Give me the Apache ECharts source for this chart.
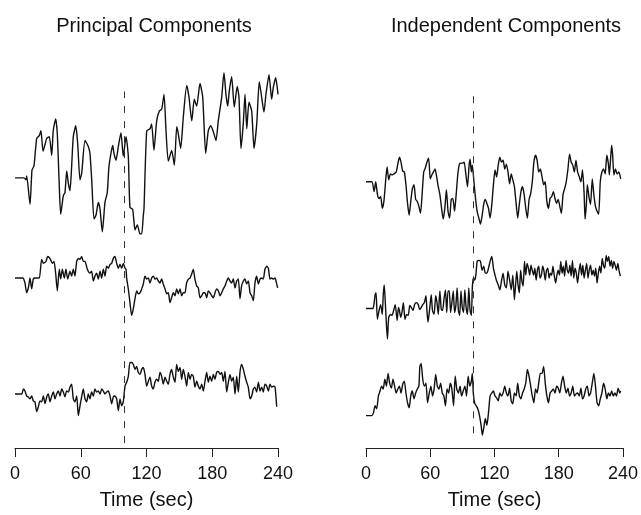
<!DOCTYPE html>
<html>
<head>
<meta charset="utf-8">
<script src="https://cdn.jsdelivr.net/npm/echarts@6/dist/echarts.min.js"></script>
<style>
  html, body { margin: 0; background: #fff; }
  #chart { width: 641px; height: 515px; }
</style>
</head>
<body>
<div id="chart"></div>
<script>
// time (sec), amplitude (arbitrary units)
const pcTop = [[0,0],[8.2,0],[10,-2],[10.7,2],[13.7,-27],[15.5,8],[17.3,12],[19.8,40],[22.2,43],[23.7,48],[25.6,27],[28.9,40],[31.3,42],[33.5,23],[34.9,48],[37.1,60],[38.6,45],[40.4,-8],[41.7,-37],[44.1,-18],[45.6,-15],[47.2,7],[48.6,-5],[50.2,-13],[51.7,12],[53.2,42],[55.4,53],[57.2,35],[59.3,-2],[60.9,5],[63.9,38],[66.9,32],[68.4,25],[70,-2],[72.1,-42],[73.9,-38],[76,-25],[77.6,-32],[79.7,-55],[82.1,-25],[84.2,-15],[85.8,12],[89.2,33],[90.3,25],[92.2,18],[94.3,32],[96.7,46],[98.8,22],[101.3,42],[103.4,22],[104.9,-30],[107.4,-32],[109.5,-53],[111.6,-48],[114.1,-57],[115.6,-57],[117.1,-38],[117.7,-32],[120.2,48],[123.2,50],[124.7,55],[126.8,28],[129.3,58],[131.7,68],[133.9,70],[136,85],[137.8,48],[139.9,17],[143,28],[145.4,13],[147.6,52],[149,45],[151.2,30],[153.6,62],[156.7,94],[158.8,82],[161.3,58],[163.6,80],[165.8,73],[168.8,96],[171.3,82],[174,25],[176.4,48],[178.6,53],[181,47],[183.4,38],[185.5,58],[188.6,82],[190.7,107],[192.5,85],[194.1,73],[195.5,88],[197.7,103],[200.1,72],[202.8,93],[204.4,82],[206.2,30],[208.3,55],[209.9,85],[211.5,50],[213.5,77],[216,68],[218.1,30],[220.6,55],[222.9,98],[225.1,82],[227.2,67],[229,85],[231.8,105],[234.2,80],[235.7,92],[237.9,102],[240,85]];

const pcMid = [[0,0],[7,0],[9.1,-5],[10.6,-15],[12.2,-10],[13.7,0],[15.2,-11],[16.7,-1],[18.2,0],[19.8,0],[22.2,0],[24.3,19],[25.9,15],[28.3,17],[29.8,22],[31.9,20],[34.1,15],[35.6,17],[37.1,5],[38.6,-13],[40.4,9],[41.7,-1],[43.2,9],[45,0],[46.5,9],[48.1,-1],[50.2,7],[51.7,2],[53.2,9],[54.7,2],[56.3,17],[57.8,20],[59.3,19],[60.8,22],[62.3,17],[63.9,17],[66,9],[68.4,5],[69.9,7],[71.5,-3],[73,2],[74.5,5],[76,-1],[77.6,7],[79.1,0],[80.6,9],[82.1,2],[83.6,12],[85.2,10],[86.7,14],[88.2,15],[89.7,20],[91.2,22],[92.8,15],[94.3,10],[95.8,14],[97.3,10],[98.8,15],[100.4,10],[101.3,9],[101.9,0],[103.4,-11],[104.9,-25],[106.5,-38],[108,-31],[109.5,-21],[111,-13],[112.5,-16],[114.1,-15],[115.6,-11],[117.1,-6],[118.6,2],[120.1,-1],[121.7,0],[123.2,-5],[124.7,0],[126.2,2],[127.7,-1],[129.3,0],[130.8,-3],[132.3,-5],[133.8,-1],[135.3,-6],[136.9,-11],[138.4,-16],[139.9,-15],[141.4,-25],[142.9,-20],[144.5,-15],[146,-18],[147.5,-11],[149,-16],[150.6,-11],[152.1,-18],[153.6,-15],[155.1,-15],[156.6,-5],[158.2,-1],[159.7,0],[161.2,4],[162.7,9],[164.2,-1],[165.8,-8],[167.3,-10],[168.8,-20],[170.3,-18],[171.9,-15],[173.4,-15],[174.9,-20],[176.4,-13],[177.9,-15],[179.5,-18],[181,-20],[182.5,-15],[184,-11],[185.6,-13],[187.1,-18],[188.6,-15],[190.1,-11],[191.6,-8],[193.2,-3],[194.7,0],[196.2,-3],[197.7,-5],[199.2,-1],[200.8,-10],[202.3,-3],[203.8,-1],[205.3,-21],[206.8,-8],[208.4,-3],[209.9,-1],[211.4,-6],[212.9,-3],[214.5,-15],[216,-18],[217.5,-23],[219,-5],[220.5,2],[222.1,-6],[223.6,-1],[225.1,0],[226.6,-1],[228.1,9],[229.7,12],[231.2,10],[232.7,-1],[234.2,0],[235.8,-1],[237.3,0],[238.8,-6],[239.7,-10]];

const pcBottom = [[0,0],[6.1,0],[7.6,5],[9.1,3],[10.6,-2],[12.2,-3],[13.7,-5],[15.2,-2],[16.7,-7],[18.2,-8],[19.8,-18],[21.3,-13],[22.8,-7],[24.3,-8],[25.9,-2],[27.4,-10],[28.9,-3],[30.4,0],[31.9,-8],[33.5,-2],[35,2],[36.5,-5],[38,0],[39.5,3],[41.1,-2],[42.6,5],[44.1,2],[45.6,-3],[47.1,3],[48.7,2],[50.2,7],[51.7,10],[53.2,-5],[54.7,-8],[56.3,-2],[57.8,-22],[59.3,-12],[60.8,-3],[62.3,5],[63.9,-5],[65.4,-8],[66.9,0],[68.4,-5],[69.9,2],[71.5,-2],[73,5],[74.5,2],[76,3],[77.6,0],[79.1,5],[80.6,3],[82.1,0],[83.6,2],[85.2,3],[86.7,-2],[88.2,-10],[89.7,-3],[91.2,-2],[92.8,-5],[94.3,-17],[95.8,-5],[97.3,-12],[98.8,-8],[100.4,8],[101.9,12],[103.4,18],[104.9,32],[106.5,32],[108,30],[109.5,25],[111,28],[112.5,22],[114.1,20],[115.6,25],[117.1,27],[118.6,20],[120.1,8],[121.7,13],[123.2,17],[124.7,8],[126.2,5],[127.7,12],[129.3,15],[130.8,13],[132.3,22],[133.8,18],[135.3,10],[136.9,17],[138.4,13],[139.9,10],[141.4,20],[142.9,25],[144.5,17],[146,12],[147.5,30],[149,23],[150.6,27],[152.1,15],[153.6,25],[155.1,18],[156.6,8],[158.2,22],[159.7,15],[161.2,20],[162.7,18],[164.2,7],[165.8,13],[167.3,8],[168.8,5],[170.3,10],[171.9,3],[173.4,13],[174.9,22],[176.4,12],[177.9,18],[179.5,13],[181,20],[182.5,15],[184,22],[185.6,23],[187.1,20],[188.6,22],[190.1,13],[191.6,23],[193.2,2],[194.7,12],[196.2,20],[197.7,13],[199.2,17],[200.8,0],[202.3,18],[203.8,2],[205.3,22],[206.8,30],[208.4,25],[209.9,18],[211.4,12],[212.9,7],[214.5,-5],[216,-2],[217.5,5],[219,7],[220.5,2],[222.1,12],[223.6,3],[225.1,7],[226.6,2],[228.1,10],[229.7,8],[231.2,3],[232.7,10],[234.2,7],[235.8,8],[237.3,7],[238.8,-13]];

const icTop = [[0,0],[5.5,0],[7.6,-10],[9.1,0],[10.7,-13],[12.2,-17],[13.7,-15],[15.2,-27],[16.7,-20],[18.5,3],[19.7,15],[21.2,2],[22.8,8],[24.3,7],[26.1,8],[28.2,10],[29.7,18],[31.2,25],[32.7,20],[34.2,11],[35.8,10],[37.3,-3],[38.8,-22],[40.3,-34],[41.8,-20],[43.3,-7],[44.8,-3],[46.4,-18],[47.9,-20],[49.4,-25],[50.9,-32],[52.4,-13],[53.9,10],[55.4,14],[56.9,20],[58.5,24],[60,3],[61.5,7],[63,10],[64.5,13],[66,5],[67.5,-5],[69,-13],[70.6,-27],[72.1,-38],[73.6,-27],[75.1,-8],[76.6,-30],[78.1,-37],[79.6,-18],[81.1,-17],[82.7,-30],[84.2,-13],[85.7,7],[87.2,18],[88.7,19],[90.2,19],[91.7,20],[93.3,7],[94.8,-5],[96.3,17],[97.2,23],[98.4,10],[99.3,17],[100.8,0],[102.3,-17],[103.8,-30],[105.4,-37],[106.9,-43],[108.4,-35],[109.9,-23],[111.4,-18],[112.9,-22],[114.4,-27],[115.9,-37],[117.5,-23],[119,-3],[120.5,12],[122,5],[123.5,17],[125,25],[126.5,20],[128,22],[129.6,13],[131.1,18],[132.6,10],[134.1,-2],[135.6,8],[137.1,2],[138.6,-5],[140.2,-22],[141.7,-37],[143.2,-23],[144.7,-10],[146.2,-5],[147.7,-13],[149.2,-27],[150.7,-37],[152.3,-18],[153.8,-12],[155.3,0],[156.8,20],[158.3,27],[159.8,22],[161.3,10],[162.8,13],[164.4,5],[165.9,-3],[167.4,0],[168.9,-20],[170.4,-27],[171.9,-17],[173.4,-15],[175,-10],[176.5,-17],[178,-22],[179.5,-18],[181,-25],[182.5,-32],[184,-13],[185.5,-7],[187,0],[188.6,13],[190.1,28],[191.6,20],[193.1,17],[194.6,10],[196.1,22],[197.6,10],[199.2,5],[200.7,0],[202.2,12],[203.7,-12],[204.6,-38],[205.8,-23],[206.7,-3],[208.2,-15],[209.7,-23],[211.3,3],[212.8,-13],[214.3,-25],[215.8,-30],[217.3,-33],[218.8,0],[220.3,10],[221.8,13],[223.4,8],[224.9,27],[226.4,18],[227.3,7],[228.5,25],[229.4,37],[230.3,28],[231.5,7],[233,13],[234.5,8],[236.1,10],[237.9,3]];

const icMid = [[0,0],[6.4,0],[7.6,6],[8.5,14],[9.4,16],[10.6,-11],[12.2,-2],[13.7,4],[15.2,-6],[16.1,14],[17,24],[17.9,9],[19.1,-17],[20,-31],[21.2,-9],[22.8,-6],[24.3,-7],[25.8,-2],[27.3,4],[28.2,-4],[29.1,-12],[30.3,1],[31.2,-2],[32.4,-9],[33.6,-4],[34.9,6],[36.4,-11],[37.9,-6],[39.4,-7],[40.9,3],[42.4,1],[43.9,-2],[45.4,4],[47,6],[48.8,4],[50,-1],[51.5,1],[53,4],[54.5,6],[56,13],[56.9,-2],[57.9,-14],[59.4,-1],[60.9,14],[62.1,-2],[63.6,-6],[65.1,13],[66.3,6],[67.5,-6],[69,18],[70.3,-1],[71.5,-2],[73,11],[74.2,19],[75.4,-4],[76.6,18],[77.8,18],[79,-4],[80.2,6],[81.5,18],[82.7,-4],[83.9,3],[85.1,21],[86.3,-2],[87.5,-7],[88.7,18],[89.9,1],[91.1,-4],[92.3,19],[93.5,1],[94.8,-6],[96,21],[97.2,-2],[98.4,-7],[99.3,21],[100.2,31],[101.4,29],[102.6,34],[103.8,48],[105.4,49],[106.9,48],[108.4,39],[109.9,43],[111.4,36],[112.9,36],[114.4,41],[115.9,48],[117.5,53],[119,41],[120.5,34],[122,28],[123.5,24],[125,19],[126.5,28],[128,36],[129.6,24],[131.1,21],[132.6,38],[134.1,29],[135.6,19],[137.1,34],[138.6,9],[139.5,21],[140.8,38],[142,24],[143.2,16],[144.4,39],[145.6,28],[146.8,23],[148,48],[149.2,34],[150.4,46],[151.7,41],[152.9,34],[154.1,44],[155.3,39],[156.5,34],[157.7,41],[158.9,29],[160.1,39],[161.3,43],[162.5,31],[163.8,34],[165,43],[166.2,38],[167.4,29],[168.6,39],[169.8,41],[171,31],[172.2,36],[173.4,34],[174.6,43],[175.9,33],[177.1,26],[178.3,34],[179.5,39],[180.7,34],[181.9,48],[183.1,36],[184.3,43],[185.5,33],[186.8,49],[188,39],[189.2,36],[190.4,44],[191.6,33],[192.8,49],[194,31],[195.2,41],[196.4,36],[197.6,26],[198.9,38],[200.1,46],[201.3,34],[202.5,44],[203.7,31],[204.9,39],[206.1,46],[207.3,31],[208.5,39],[209.7,44],[211,34],[212.2,39],[213.4,33],[214.6,41],[215.8,26],[217,36],[218.2,43],[219.4,36],[220.6,51],[221.8,44],[223,41],[224.3,54],[225.5,48],[226.7,53],[227.9,43],[229.1,49],[230.3,41],[231.5,48],[232.7,44],[233.9,39],[235.2,46],[236.4,38],[237.6,33]];

const icBottom = [[0,0],[5.5,0],[7,3],[8.5,10],[10,7],[11.6,20],[13.1,25],[14.6,30],[16.1,27],[17.6,37],[19.1,30],[20.6,43],[22.1,33],[23.7,28],[25.2,37],[26.7,30],[28.2,23],[29.7,27],[31.2,30],[32.7,23],[34.3,32],[35.8,35],[37.3,23],[38.8,13],[40.3,8],[41.8,20],[43.3,25],[44.8,17],[46.4,23],[47.9,27],[49.4,30],[50.3,50],[51.5,53],[53,37],[54.5,30],[56,33],[57.5,13],[59.1,23],[60.6,30],[62.1,20],[63.6,27],[65.1,42],[66.6,30],[68.1,27],[69.7,33],[71.2,23],[72.7,20],[74.2,10],[75.7,27],[77.2,23],[78.7,33],[80.2,27],[81.8,10],[83.3,40],[84.8,27],[86.3,23],[87.8,30],[89.3,20],[90.8,25],[92.4,30],[93.9,20],[95.4,40],[96.9,30],[98.4,35],[99.3,43],[100.2,23],[101.4,13],[102.9,10],[104.4,7],[106,0],[107.5,-10],[108.7,-20],[109.9,-13],[111.4,-3],[112.9,-10],[114.4,3],[115.9,20],[117.5,23],[119,25],[120.5,20],[122,18],[123.5,15],[125,23],[126.5,20],[128,23],[129.6,30],[131.1,23],[132.6,20],[134.1,28],[135.6,15],[137.1,12],[138.6,23],[140.2,20],[141.7,33],[143.2,20],[144.7,17],[146.2,23],[147.7,27],[149.2,33],[150.7,47],[152.3,40],[153.8,30],[155.3,20],[156.8,13],[158.3,27],[159.8,23],[161.3,33],[162.8,43],[164.4,43],[165.9,50],[167.4,33],[168.9,20],[170.4,13],[171.9,23],[173.4,25],[175,27],[176.5,23],[178,30],[179.5,28],[181,23],[182.5,33],[184,40],[185.5,30],[187,23],[188.6,28],[190.1,20],[191.6,23],[193.1,30],[194.6,20],[196.1,22],[197.6,23],[199.2,20],[200.7,28],[202.2,17],[203.7,20],[205.2,27],[206.7,30],[208.2,20],[209.7,23],[211.3,33],[212.8,43],[214.3,30],[215.8,13],[217.3,10],[218.8,17],[220.3,23],[221.8,33],[223.4,27],[224.9,17],[226.4,23],[227.9,20],[229.4,25],[230.9,20],[232.4,23],[233.9,20],[235.5,28],[237,23],[237.9,25]];

const panelTitles = ['Principal Components', 'Independent Components'];
const timeTicks = [0, 60, 120, 180, 240];
const stimulusOnset = 100;

// layout: vertical offset of each trace inside its panel (axis units = px)
const offsetsLeft = [275, 173, 55];
const offsetsRight = [271, 142, 33];
const dashSpanLeft = [5, 363];
const dashSpanRight = [15, 362];

const font = 'Liberation Sans, Arial, sans-serif';
const ink = '#111';

const chart = echarts.init(document.getElementById('chart'));

function xAxisFor(grid) {
    return {
        type: 'value', gridIndex: grid,
        min: timeTicks[0], max: timeTicks[timeTicks.length - 1],
        interval: timeTicks[1] - timeTicks[0],
        axisLine: { show: true, lineStyle: { color: '#222', width: 1 } },
        axisTick: { show: true, inside: false, length: 9, lineStyle: { color: '#222', width: 1 } },
        axisLabel: { fontSize: 18, margin: 17, color: ink, fontFamily: font },
        splitLine: { show: false },
        name: 'Time (sec)', nameLocation: 'middle', nameGap: 42,
        nameTextStyle: { fontSize: 20, color: ink, fontFamily: font }
    };
}

function trace(data, offset, grid, dash) {
    const s = {
        type: 'line', xAxisIndex: grid, yAxisIndex: grid,
        data: data.map(p => [p[0], p[1] + offset]),
        symbol: 'none', silent: true, smooth: 0.2,
        lineStyle: { color: ink, width: 1.4 }
    };
    if (dash) {
        s.markLine = {
            symbol: ['none', 'none'], silent: true, label: { show: false },
            lineStyle: { type: [7, 8], color: '#333', width: 1 },
            data: [[{ coord: [stimulusOnset, dash[0]] }, { coord: [stimulusOnset, dash[1]] }]]
        };
    }
    return s;
}

chart.setOption({
    animation: false,
    backgroundColor: '#fff',
    title: [
        { text: panelTitles[0], left: 149, top: 11, textAlign: 'center',
          textStyle: { fontSize: 20, fontWeight: 'normal', color: ink, fontFamily: font } },
        { text: panelTitles[1], left: 501, top: 11, textAlign: 'center',
          textStyle: { fontSize: 20, fontWeight: 'normal', color: ink, fontFamily: font } }
    ],
    grid: [
        { left: 15, right: 363, top: 60, bottom: 60 },
        { left: 366, right: 11, top: 60, bottom: 60 }
    ],
    xAxis: [xAxisFor(0), xAxisFor(1)],
    yAxis: [
        { type: 'value', gridIndex: 0, min: 0, max: 395, show: false },
        { type: 'value', gridIndex: 1, min: 0, max: 395, show: false }
    ],
    series: [
        trace(pcTop, offsetsLeft[0], 0, dashSpanLeft),
        trace(pcMid, offsetsLeft[1], 0),
        trace(pcBottom, offsetsLeft[2], 0),
        trace(icTop, offsetsRight[0], 1, dashSpanRight),
        trace(icMid, offsetsRight[1], 1),
        trace(icBottom, offsetsRight[2], 1)
    ]
});
</script>
</body>
</html>
